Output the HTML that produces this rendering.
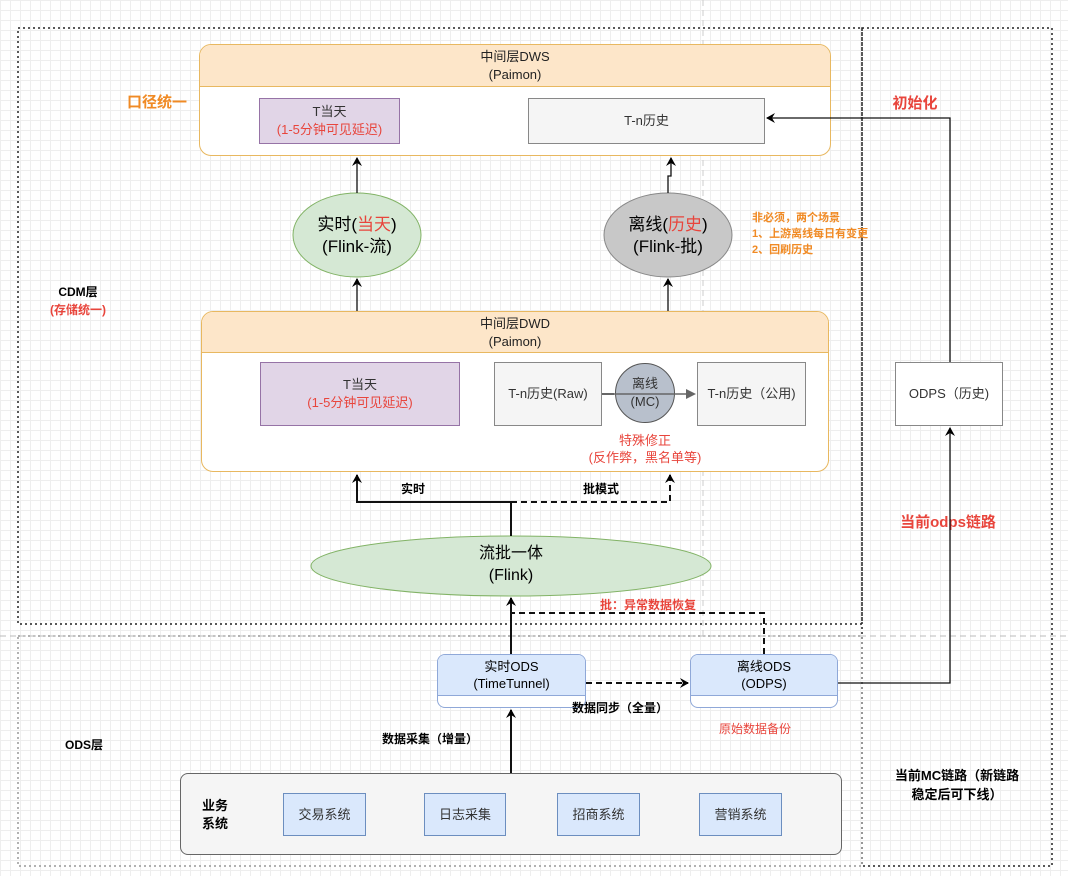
<!DOCTYPE html>
<html><head><meta charset="utf-8"><style>
body{margin:0;width:1068px;height:876px;position:relative;overflow:hidden;font-family:"Liberation Sans","Noto Sans CJK SC",sans-serif;
background-color:#fff;background-image:linear-gradient(#eee 1px,transparent 1px),linear-gradient(90deg,#eee 1px,transparent 1px);background-size:10px 10px}
.a{position:absolute;box-sizing:border-box}
.t{position:absolute;white-space:nowrap;transform:translateX(-50%);text-align:center}
.box{display:flex;align-items:center;justify-content:center;text-align:center;font-size:13px;color:#333;line-height:18px}
.box>div{white-space:nowrap}
.red{color:#e8453c}.or{color:#f08a24}
</style></head><body>
<svg class="a" style="left:0;top:0" width="1068" height="876">
<g fill="none" stroke="#222" stroke-width="1.5" stroke-dasharray="2,3">
<rect x="18" y="28" width="844" height="596"/>
<rect x="862" y="28" width="190" height="838"/>
<rect x="18" y="636" width="844" height="230" stroke="#999"/>
</g>
<line x1="703" y1="0" x2="703" y2="636" stroke="#ccc" stroke-dasharray="6,4"/>
<line x1="0" y1="636" x2="1068" y2="636" stroke="#bbb" stroke-dasharray="6,4"/>
<ellipse cx="357" cy="235" rx="64" ry="42" fill="#d5e8d4" stroke="#82b366"/>
<ellipse cx="668" cy="235" rx="64" ry="42" fill="#c8c8c8" stroke="#888"/>
<ellipse cx="511" cy="566" rx="200" ry="30" fill="#d5e8d4" stroke="#82b366"/>
</svg>
<!-- DWS -->
<div class="a" style="left:199px;top:44px;width:632px;height:112px;border:1px solid #e8b860;border-radius:12px;background:#fff;overflow:hidden">
<div style="height:42px;background:#fde6c9;border-bottom:1px solid #e8b860;text-align:center;font-size:13px;line-height:18px;padding-top:3px;box-sizing:border-box;color:#222">中间层DWS<br>(Paimon)</div></div>
<div class="a box" style="left:259px;top:98px;width:141px;height:46px;background:#e1d5e7;border:1px solid #9673a6"><div>T当天<br><span class="red">(1-5分钟可见延迟)</span></div></div>
<div class="a box" style="left:528px;top:98px;width:237px;height:46px;background:#f5f5f5;border:1px solid #888"><div>T-n历史</div></div>
<div class="t" style="left:357px;top:214px;font-size:17px;line-height:22px">实时(<span class="red">当天</span>)<br>(Flink-流)</div>
<div class="t" style="left:668px;top:214px;font-size:17px;line-height:22px">离线(<span class="red">历史</span>)<br>(Flink-批)</div>
<div class="a or" style="left:752px;top:210px;font-size:11px;line-height:16px;font-weight:bold">非必须，两个场景<br>1、上游离线每日有变更<br>2、回刷历史</div>
<!-- DWD -->
<div class="a" style="left:201px;top:311px;width:628px;height:161px;border:1px solid #e8b860;border-radius:12px;background:#fff;overflow:hidden">
<div style="height:41px;background:#fde6c9;border-bottom:1px solid #e8b860;text-align:center;font-size:13px;line-height:18px;padding-top:3px;box-sizing:border-box;color:#222">中间层DWD<br>(Paimon)</div></div>
<div class="a box" style="left:260px;top:362px;width:200px;height:64px;background:#e1d5e7;border:1px solid #9673a6"><div>T当天<br><span class="red">(1-5分钟可见延迟)</span></div></div>
<div class="a box" style="left:494px;top:362px;width:108px;height:64px;background:#f5f5f5;border:1px solid #888"><div>T-n历史(Raw)</div></div>
<div class="a box" style="left:697px;top:362px;width:109px;height:64px;background:#f5f5f5;border:1px solid #888"><div>T-n历史（公用)</div></div>
<div class="a box" style="left:615px;top:363px;width:60px;height:60px;border-radius:50%;background:#b8c0cc;border:1px solid #555"><div>离线<br>(MC)</div></div>
<div class="t red" style="left:645px;top:432px;font-size:13px;line-height:17px">特殊修正<br>(反作弊，黑名单等)</div>
<div class="t" style="left:413px;top:480px;font-size:12px;font-weight:bold">实时</div>
<div class="t" style="left:601px;top:480px;font-size:12px;font-weight:bold">批模式</div>
<div class="t" style="left:511px;top:543px;font-size:16px;line-height:22px">流批一体<br>(Flink)</div>
<div class="t red" style="left:648px;top:596px;font-size:12px;font-weight:bold">批：异常数据恢复</div>
<!-- ODS -->
<div class="a" style="left:437px;top:654px;width:149px;height:54px;border:1px solid #8fa8d8;border-radius:8px;background:#fff;overflow:hidden"><div style="height:41px;background:#dae8fc;border-bottom:1px solid #8fa8d8;text-align:center;font-size:13px;line-height:17px;padding-top:3px;box-sizing:border-box">实时ODS<br>(TimeTunnel)</div></div>
<div class="a" style="left:690px;top:654px;width:148px;height:54px;border:1px solid #8fa8d8;border-radius:8px;background:#fff;overflow:hidden"><div style="height:41px;background:#dae8fc;border-bottom:1px solid #8fa8d8;text-align:center;font-size:13px;line-height:17px;padding-top:3px;box-sizing:border-box">离线ODS<br>(ODPS)</div></div>
<div class="t" style="left:620px;top:699px;font-size:12px;font-weight:bold">数据同步（全量）</div>
<div class="t red" style="left:755px;top:720px;font-size:12px">原始数据备份</div>
<div class="t" style="left:430px;top:730px;font-size:12px;font-weight:bold">数据采集（增量）</div>
<div class="a box" style="left:895px;top:362px;width:108px;height:64px;background:#fff;border:1px solid #888"><div>ODPS（历史)</div></div>
<div class="a" style="left:180px;top:773px;width:662px;height:82px;background:#f5f5f5;border:1px solid #666;border-radius:8px"></div>
<div class="a" style="left:202px;top:797px;font-size:13px;font-weight:bold;line-height:18px">业务<br>系统</div>
<div class="a box" style="left:283px;top:793px;width:83px;height:43px;background:#dae8fc;border:1px solid #6c8ebf"><div>交易系统</div></div>
<div class="a box" style="left:424px;top:793px;width:82px;height:43px;background:#dae8fc;border:1px solid #6c8ebf"><div>日志采集</div></div>
<div class="a box" style="left:557px;top:793px;width:83px;height:43px;background:#dae8fc;border:1px solid #6c8ebf"><div>招商系统</div></div>
<div class="a box" style="left:699px;top:793px;width:83px;height:43px;background:#dae8fc;border:1px solid #6c8ebf"><div>营销系统</div></div>
<!-- side labels -->
<div class="t or" style="left:157px;top:91px;font-size:15px;font-weight:bold">口径统一</div>
<div class="t" style="left:78px;top:283px;font-size:12px;font-weight:bold;line-height:18px">CDM层<br><span class="red">(存储统一)</span></div>
<div class="t" style="left:84px;top:736px;font-size:12px;font-weight:bold">ODS层</div>
<div class="t red" style="left:915px;top:92px;font-size:15px;font-weight:bold">初始化</div>
<div class="t red" style="left:948px;top:511px;font-size:15px;font-weight:bold">当前odps链路</div>
<div class="t" style="left:957px;top:766px;font-size:13px;font-weight:bold;line-height:19px">当前MC链路（新链路<br>稳定后可下线）</div>
<!-- connectors on top -->
<svg class="a" style="left:0;top:0;pointer-events:none" width="1068" height="876">
<defs><marker id="ar" markerWidth="10" markerHeight="10" refX="8" refY="5" orient="auto" markerUnits="userSpaceOnUse"><path d="M0,0 L9,5 L0,10 L3,5z" fill="#000"/></marker></defs>
<line x1="602" y1="394" x2="614" y2="394" stroke="#666" stroke-width="2"/>
<line x1="614" y1="394" x2="688" y2="394" stroke="#666" stroke-width="1.5"/><path d="M686,389 L696,394 L686,399z" fill="#666"/>
<g stroke="#111" stroke-width="1.3" fill="none" marker-end="url(#ar)">
<line x1="357" y1="193" x2="357" y2="158"/>
<line x1="357" y1="311" x2="357" y2="279"/>
<polyline points="668,193 668,176 671,176 671,158"/>
<line x1="668" y1="311" x2="668" y2="279"/>
<polyline points="950,362 950,118 767,118"/>
<polyline points="838,683 950,683 950,428"/>
</g>
<g stroke="#111" stroke-width="2" fill="none">
<polyline points="511,536 511,502 357,502 357,475" marker-end="url(#ar)"/>
<polyline points="511,502 670,502 670,475" stroke-dasharray="6,4" marker-end="url(#ar)"/>
<line x1="511" y1="654" x2="511" y2="598" marker-end="url(#ar)"/>
<polyline points="764,654 764,613 511,613" stroke-dasharray="6,4"/>
<line x1="586" y1="683" x2="688" y2="683" stroke-dasharray="6,4" marker-end="url(#ar)"/>
<line x1="511" y1="773" x2="511" y2="710" marker-end="url(#ar)"/>
</g>
</svg>
</body></html>
